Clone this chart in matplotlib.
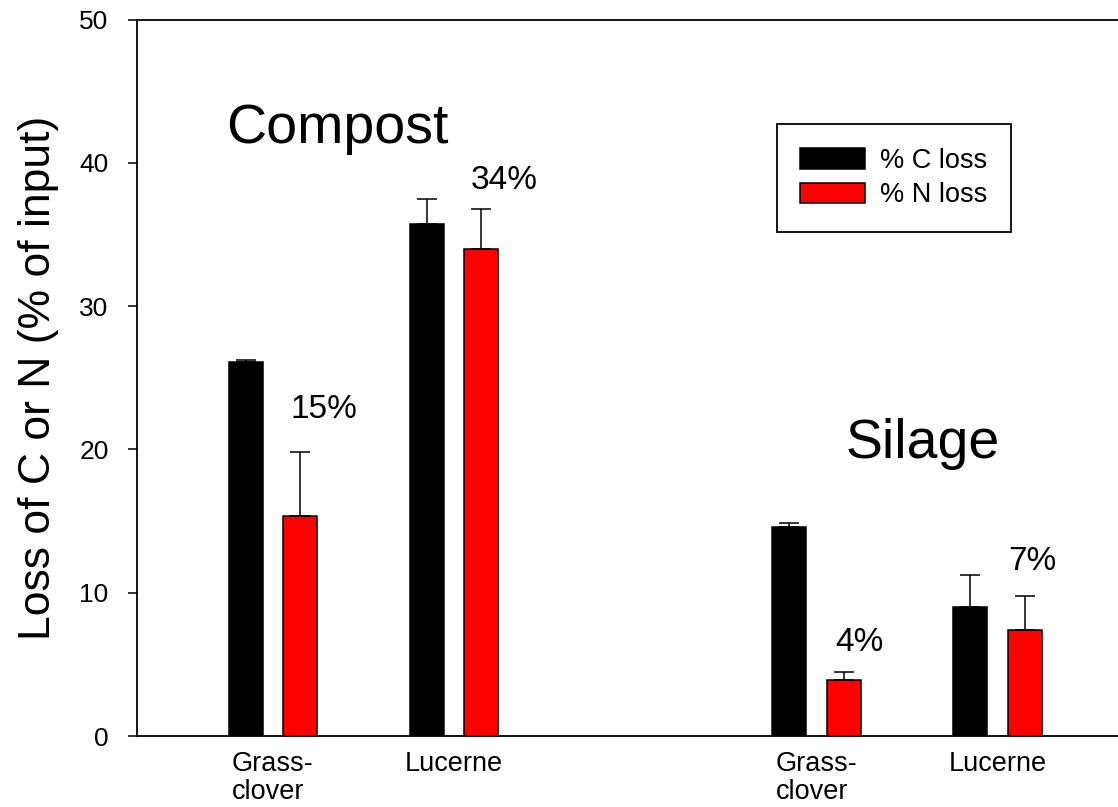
import numpy as np
import matplotlib
matplotlib.use('Agg')
import matplotlib.pyplot as plt

plt.rcParams['font.family'] = ['Liberation Sans', 'DejaVu Sans']

# loss of C and N, % of input (mean and upper error)
groups = ['Grass-\nclover', 'Lucerne', 'Grass-\nclover', 'Lucerne']
group_x = [1, 3, 7, 9]
c_loss = [26.1, 35.7, 14.6, 9.0]
c_err = [0.15, 1.8, 0.23, 2.25]
n_loss = [15.35, 34.0, 3.9, 7.37]
n_err = [4.47, 2.78, 0.6, 2.42]

# where the N-loss percentages are written
pct_x = [1.19, 3.18, 7.21, 9.12]
pct_y = [22.2, 38.2, 5.95, 11.6]

fig = plt.figure(figsize=(11.18, 8.07), dpi=100)
ax = fig.add_axes([137 / 1118, 1 - 736 / 807, 981 / 1118, 716.5 / 807])

x = np.array(group_x, dtype=float)
off = 0.3
w = 0.375
err_kw = dict(ecolor='black', elinewidth=1.1, capsize=7.2, capthick=1.1)

ax.bar(x - off, c_loss, w, color='black', edgecolor='black', linewidth=1.1,
       yerr=[np.zeros(4), c_err], error_kw=err_kw, label='% C loss', zorder=3)
ax.bar(x + off, n_loss, w, color='#ff0000', edgecolor='black', linewidth=1.1,
       yerr=[np.zeros(4), n_err], error_kw=err_kw, label='% N loss', zorder=3)

for px, py, v in zip(pct_x, pct_y, n_loss):
    ax.text(px, py, f'{round(v)}%', fontsize=24, ha='left', va='baseline')

ax.text(0.48, 41.4, 'Compost', fontsize=40, ha='left', va='baseline')
ax.text(7.32, 19.4, 'Silage', fontsize=40, ha='left', va='baseline')

ax.set_xlim(-0.5, 10.33)
ax.set_ylim(0, 50)
ax.set_yticks([0, 10, 20, 30, 40, 50])
ax.set_xticks(x)
ax.set_xticklabels(groups, fontsize=19.5, linespacing=1.1, ha='center',
                   multialignment='left')
ax.tick_params(axis='x', length=0, pad=11)
ax.tick_params(axis='y', direction='out', length=6.5, width=1.1,
               labelsize=19, pad=14)

for s in ['left', 'bottom', 'top']:
    ax.spines[s].set_linewidth(1.3)
ax.spines['right'].set_visible(False)

ax.set_ylabel('Loss of C or N (% of input)', fontsize=32)
ax.yaxis.set_label_coords(-0.08, 0.5)

leg = ax.legend(loc='upper left', bbox_to_anchor=(0.652, 0.854), borderaxespad=0,
                fontsize=19.5, handlelength=2.37, handleheight=0.77,
                handletextpad=0.55, labelspacing=0.3, borderpad=0.88,
                fancybox=False, framealpha=1, edgecolor='black')
leg.get_frame().set_linewidth(1.3)

fig.savefig('out.png', dpi=100)
